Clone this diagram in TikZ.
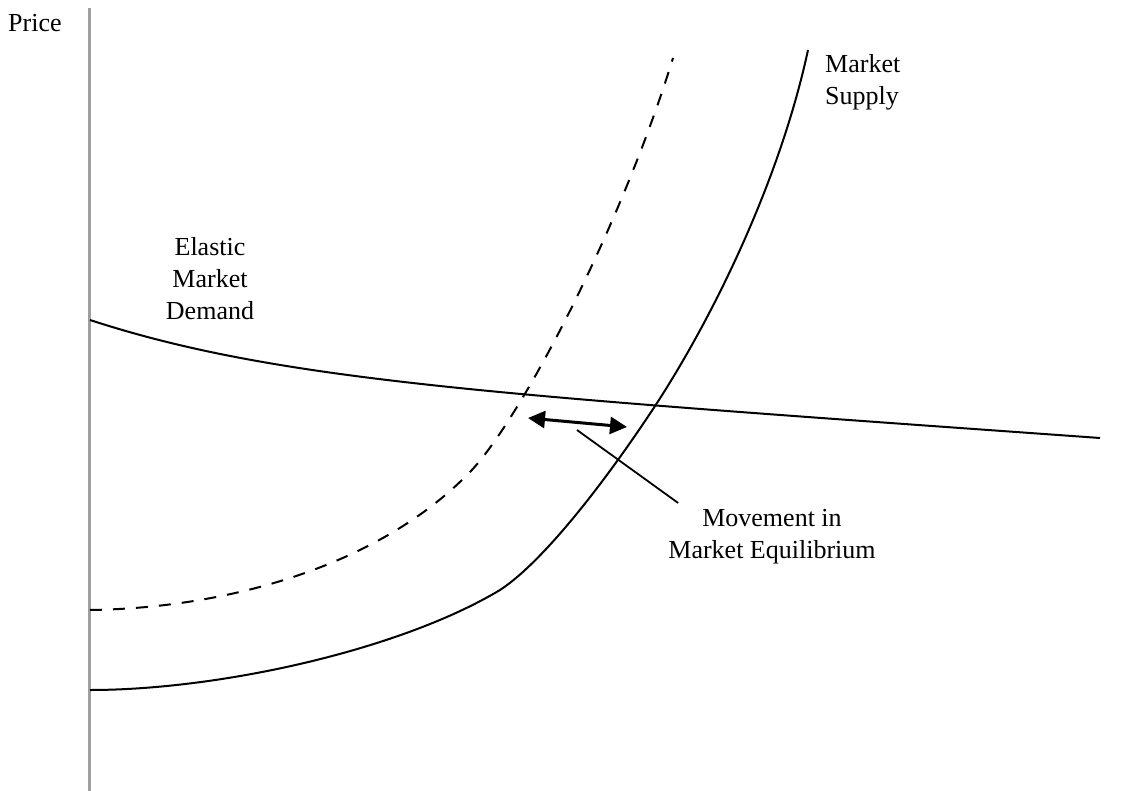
\documentclass[tikz,border=0pt]{standalone}
\usepackage{fontspec}
\setmainfont{Liberation Serif}
\usetikzlibrary{arrows.meta}
\tikzset{semithick,
curve/.style ={line width=2pt, line join=round},
shifted/.style ={curve, dash pattern=on 12pt off 11pt},
axis/.style ={draw=gray!75, line width=3pt},
lbl/.style ={font=\fontsize{26}{32}\selectfont, inner sep=0pt}}

\begin{document}
\begin{tikzpicture}[x=1pt,y=-1pt]
\useasboundingbox (0,0) rectangle (1129,791);
% axis
\coordinate (top) at (89,8);
\coordinate (bottom) at (89,791);
\draw[axis] (top) -- (bottom);
\node[lbl, anchor=base west] (price) at (8,32) {Price};
% demand
\draw[curve] (90,320) .. controls (280,382) and (500,395) .. (1100,438);
% supply, then shifted supply
\draw[curve] (90,690) .. controls (220,690) and (400,650) .. (500,590)
    .. controls (540,564) and (600,490) .. (657,403)
    .. controls (714,315) and (780,180) .. (808,50);
\draw[shifted] (90,610) .. controls (230,608) and (380,565) .. (470,472)
    .. controls (520,420) and (620,230) .. (673,58);
% labels
\node[lbl, align=left, anchor=north west] (supply) at (825,54) {Market\\Supply};
\node[lbl, align=center, anchor=north] (demand) at (210,237) {Elastic\\Market\\Demand};
\node[lbl, align=center, anchor=north] (move) at (772,509) {Movement in\\Market Equilibrium};
% movement
\coordinate (eqA) at (528,418);
\coordinate (eqB) at (627,427);
\coordinate (ptr) at (577,430);
\draw[line width=3pt, {Triangle[length=17pt,width=17pt]}-{Triangle[length=17pt,width=17pt]}] (eqA) -- (eqB);
\draw[line width=1.8pt] (ptr) -- ([shift={(10,-6)}]move.north west);
\end{tikzpicture}
\end{document}
